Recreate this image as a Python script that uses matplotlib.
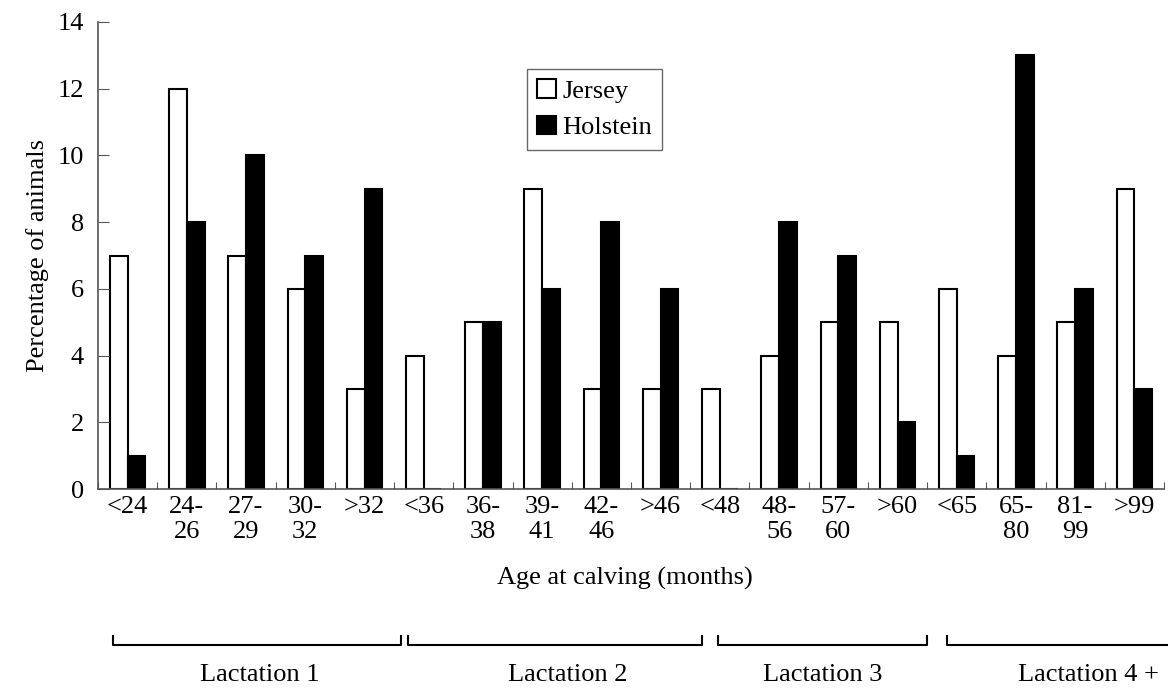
import matplotlib
matplotlib.use('Agg')
from matplotlib import pyplot as plt
import matplotlib.transforms as mtransforms
import numpy as np

plt.rcParams['font.family'] = ['Liberation Serif', 'DejaVu Serif']
plt.rcParams['font.size'] = 19

# age classes (months) and percentages
ages = ['<24', '24-\n26', '27-\n29', '30-\n32', '>32',
        '<36', '36-\n38', '39-\n41', '42-\n46', '>46',
        '<48', '48-\n56', '57-\n60', '>60',
        '<65', '65-\n80', '81-\n99', '>99']
jersey = [7, 12, 7, 6, 3, 4, 5, 9, 3, 3, 3, 4, 5, 5, 6, 4, 5, 9]
holstein = [1, 8, 10, 7, 9, 0, 5, 6, 8, 6, 0, 8, 7, 2, 1, 13, 6, 3]

# lactation groups under the axis
lactations = ['Lactation 1', 'Lactation 2', 'Lactation 3', 'Lactation 4 +']
brk_left = [-0.25, 4.74, 9.97, 13.84]      # in category units
brk_right = [4.62, 9.70, 13.50, 17.6]      # last one runs off the page

fig = plt.figure(figsize=(11.68, 6.9), dpi=100)
ax = fig.add_axes([98 / 1168, 201 / 690, 1066 / 1168, 467 / 690])

x = np.arange(len(ages))
w = 0.3
ax.bar(x - w / 2, jersey, w, color='white', edgecolor='black', linewidth=1.5, label='Jersey')
ax.bar(x + w / 2, holstein, w, color='black', edgecolor='black', linewidth=1.5, label='Holstein')

ax.set_xlim(-0.5, len(ages) - 0.5)
ax.set_ylim(0, 14)
ax.set_yticks(range(0, 15, 2))
ax.set_xticks(np.arange(len(ages) + 1) - 0.5)
ax.set_xticklabels([])
ax.set_xticks(x, minor=True)
ax.set_xticklabels(ages, minor=True, va='top')
ax.tick_params(axis='x', which='minor', length=0, pad=5)
ax.tick_params(axis='x', which='major', direction='in', length=5, color='#555555')
ax.tick_params(axis='y', direction='in', length=8, pad=10, color='#555555')

for s in ['top', 'right']:
    ax.spines[s].set_visible(False)
for s in ['left', 'bottom']:
    ax.spines[s].set_color('#555555')
    ax.spines[s].set_linewidth(1.2)

ax.set_ylabel('Percentage of animals', labelpad=6)
fig.text(625 / 1168, 1 - 578 / 690, 'Age at calving (months)', ha='center', va='center')

leg = ax.legend(loc='upper left', bbox_to_anchor=(0.402, 0.90), frameon=True, fancybox=False,
                handlelength=0.7, handleheight=0.7, handletextpad=0.25, labelspacing=0.5,
                borderpad=0.4, borderaxespad=0)
leg.get_frame().set_edgecolor('#444444')
leg.get_frame().set_linewidth(1.0)

trans = mtransforms.blended_transform_factory(ax.transData, fig.transFigure)
yl = 1 - 645 / 690
yt = 1 - 636 / 690
for i, lab in enumerate(lactations):
    a = brk_left[i]
    b = brk_right[i]
    if i == len(lactations) - 1:
        ax.plot([a, a, b], [yt, yl, yl], color='black', lw=1.5, transform=trans, clip_on=False)
    else:
        ax.plot([a, a, b, b], [yt, yl, yl, yt], color='black', lw=1.5, transform=trans, clip_on=False)
labx = [260, 568, 823, 1088]
for i, lab in enumerate(lactations):
    fig.text(labx[i] / 1168, 1 - 675 / 690, lab, ha='center', va='center')

plt.savefig('out.png', dpi=100)
